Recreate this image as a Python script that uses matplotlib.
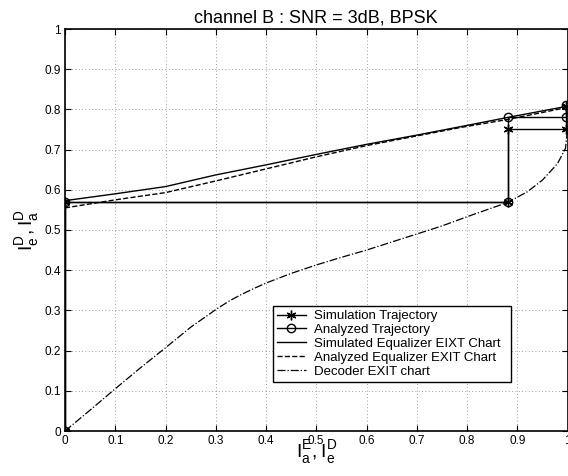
import matplotlib
matplotlib.use("Agg")
import matplotlib.pyplot as plt
import numpy as np

plt.rcParams['font.family'] = ['Liberation Sans', 'DejaVu Sans']
plt.rcParams['mathtext.fontset'] = 'custom'
plt.rcParams['mathtext.rm'] = 'Liberation Sans'

# Equalizer EXIT charts
eq_x = [0.0, 0.1, 0.2, 0.3, 0.4, 0.5, 0.6, 0.7, 0.787, 0.881, 1.0]
sim_eq_y = [0.573, 0.590, 0.608, 0.637, 0.662, 0.688, 0.713, 0.736, 0.757, 0.780, 0.808]
ana_eq_y = [0.555, 0.575, 0.593, 0.622, 0.652, 0.682, 0.710, 0.734, 0.755, 0.775, 0.805]

# Decoder EXIT chart
dec_x = [0.0, 0.05, 0.1, 0.15, 0.2, 0.25, 0.3, 0.325, 0.35, 0.375, 0.4, 0.45, 0.5, 0.55,
         0.6, 0.65, 0.7, 0.75, 0.8, 0.85, 0.88, 0.92, 0.95, 0.98, 0.996, 1.0]
dec_y = [0.0, 0.052, 0.105, 0.157, 0.207, 0.258, 0.302, 0.322, 0.339, 0.354, 0.368, 0.392,
         0.413, 0.432, 0.450, 0.470, 0.490, 0.510, 0.533, 0.555, 0.568, 0.595,
         0.624, 0.665, 0.703, 0.750]

# Trajectories
sim_traj_x = [0.0, 0.0, 0.881, 0.881, 0.997, 0.997]
sim_traj_y = [0.0, 0.570, 0.570, 0.751, 0.751, 0.808]
ana_traj_x = [0.0, 0.0, 0.881, 0.881, 0.997, 0.997]
ana_traj_y = [0.0, 0.570, 0.570, 0.782, 0.782, 0.810]

ticks = [0, 0.1, 0.2, 0.3, 0.4, 0.5, 0.6, 0.7, 0.8, 0.9, 1]
tick_labels = ['0', '0.1', '0.2', '0.3', '0.4', '0.5', '0.6', '0.7', '0.8', '0.9', '1']

fig = plt.figure(figsize=(5.68, 4.76), dpi=100)
ax = fig.add_axes([65/568, 45/476, 502.5/568, 402/476])

asterisk = (6, 2, 0)
ax.plot(sim_traj_x, sim_traj_y, '-', marker=asterisk, color='black', lw=1.0, ms=7, mew=1.0,
        label='Simulation Trajectory')
ax.plot(ana_traj_x, ana_traj_y, '-o', color='black', lw=1.0, ms=6, mfc='none', label='Analyzed Trajectory')
ax.plot(eq_x, sim_eq_y, '-', color='black', lw=1.0, label='Simulated Equalizer EIXT Chart')
ax.plot(eq_x, ana_eq_y, '--', color='black', lw=1.0, label='Analyzed Equalizer EXIT Chart')
ax.plot(dec_x, dec_y, '-.', color='black', lw=0.9, label='Decoder EXIT chart')

ax.set_xlim(0, 1)
ax.set_ylim(0, 1)
ax.set_xticks(ticks)
ax.set_xticklabels(tick_labels)
ax.set_yticks(ticks)
ax.set_yticklabels(tick_labels)
ax.tick_params(direction='in', top=True, right=True, labelsize=8.5, length=4, width=0.8, pad=3)
ax.grid(True, linestyle=(0, (1, 3)), color='black', lw=0.6, alpha=0.5)
for s in ax.spines.values():
    s.set_linewidth(1.2)

ax.set_title('channel B : SNR = 3dB, BPSK', fontsize=13, pad=5)
ax.set_xlabel(r'$\mathrm{I}^{\mathrm{E}}_{\mathrm{a}},\mathrm{I}^{\mathrm{D}}_{\mathrm{e}}$', fontsize=14, labelpad=-6)
ax.set_ylabel(r'$\mathrm{I}^{\mathrm{D}}_{\mathrm{e}},\mathrm{I}^{\mathrm{D}}_{\mathrm{a}}$', fontsize=14, labelpad=2)

leg = ax.legend(loc='lower left', bbox_to_anchor=((273-65)/502.5, (431-381.5)/402, (511-273)/502.5, (381.5-300)/402),
                mode='expand', fontsize=9.5, frameon=True, fancybox=False, edgecolor='black',
                framealpha=1, handlelength=2.2, handletextpad=0.6, labelspacing=0.12,
                borderpad=0.3, borderaxespad=0)
leg.get_frame().set_linewidth(1.0)

fig.savefig('out.png', dpi=100)
